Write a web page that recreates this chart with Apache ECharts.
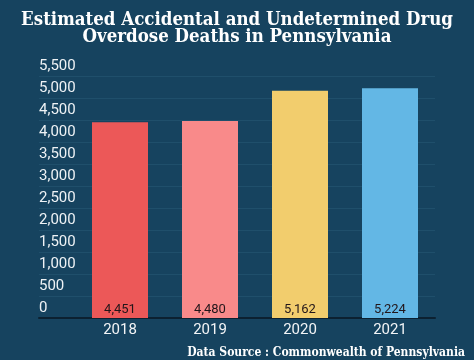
<!DOCTYPE html>
<html><head><meta charset="utf-8">
<script src="https://cdn.jsdelivr.net/npm/echarts@6/dist/echarts.min.js"></script>
<style>html,body{margin:0;padding:0;background:#16435f;}#c{width:474px;height:360px;}</style>
</head><body><div id="c"></div>
<script>
const categories = ['2018', '2019', '2020', '2021'];
const deaths = [4451, 4480, 5162, 5224];
const barColors = ['#ec5858', '#f98a8a', '#f2cd6d', '#63b7e5'];
const yTicks = { min: 0, max: 5500, interval: 500 };

const chart = echarts.init(document.getElementById('c'));
chart.setOption({
  backgroundColor: '#16435f',
  animation: false,
  title: [{
    text: 'Estimated Accidental and Undetermined Drug\nOverdose Deaths in Pennsylvania',
    left: 'center', top: 7,
    textStyle: { color: '#ffffff', fontFamily: 'DejaVu Serif Condensed', fontWeight: 'bold', fontSize: 18.5, lineHeight: 17 }
  }, {
    text: 'Data Source : Commonwealth of Pennsylvania',
    right: 4, top: 342,
    textStyle: { color: '#ffffff', fontFamily: 'DejaVu Serif Condensed', fontWeight: 'bold', fontSize: 12 }
  }],
  grid: [
    { left: 39, right: 39, top: 76, bottom: 42 },
    { left: 75, right: 39, top: 76, bottom: 42 }
  ],
  xAxis: [
    { type: 'value', gridIndex: 0, min: 0, max: 1, axisLine: { show: true, onZero: false, lineStyle: { color: '#0c2131', width: 2 } },
      axisTick: { show: false }, axisLabel: { show: false }, splitLine: { show: false } },
    { type: 'category', gridIndex: 1, data: categories,
      axisLine: { show: false }, axisTick: { show: false },
      axisLabel: { color: '#f2f4f6', fontFamily: 'Roboto', fontSize: 15, margin: 5 } }
  ],
  yAxis: [
    { type: 'value', gridIndex: 0, min: yTicks.min, max: yTicks.max, interval: yTicks.interval,
      axisLine: { show: false }, axisTick: { show: false },
      axisLabel: { inside: true, margin: 0, align: 'left', verticalAlign: 'bottom', padding: [0, 0, 2, 0],
        color: '#eef2f5', fontFamily: 'Roboto', fontSize: 15,
        formatter: v => v.toLocaleString('en-US') },
      splitLine: { show: true, lineStyle: { color: '#1f4f6b', width: 1 } } },
    { type: 'value', gridIndex: 1, min: yTicks.min, max: yTicks.max, interval: yTicks.interval, show: false }
  ],
  series: [{
    type: 'bar', xAxisIndex: 1, yAxisIndex: 1, barWidth: 56,
    data: deaths.map((v, i) => ({ value: v, itemStyle: { color: barColors[i] } })),
    label: { show: true, position: 'insideBottom', distance: 2, color: '#22161a', fontFamily: 'Roboto', fontSize: 13,
      formatter: p => p.value.toLocaleString('en-US') }
  }]
});
</script></body></html>
